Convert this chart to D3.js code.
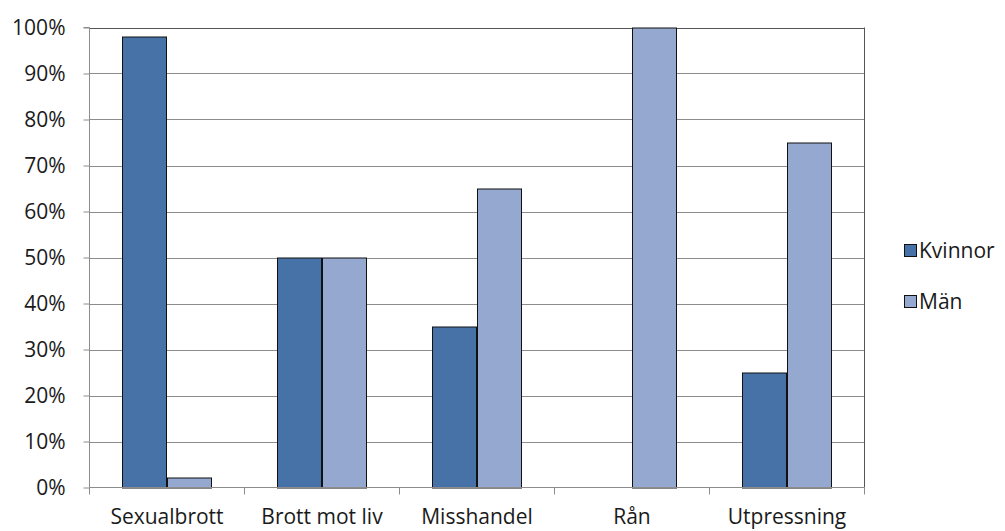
<!DOCTYPE html>
<html>
<head>
<meta charset="utf-8">
<script src="https://cdn.jsdelivr.net/npm/d3@7"></script>
<style>
  html, body { margin: 0; padding: 0; background: #fff; }
  svg { display: block; }
  text { font-family: "Open Sans", "Noto Sans", sans-serif; fill: #1a1a1a; }
</style>
</head>
<body>
<svg id="chart" width="1005" height="531"></svg>
<script>
// Share of victims by sex, per offence type
const categories = ["Sexualbrott", "Brott mot liv", "Misshandel", "Rån", "Utpressning"];
const seriesNames = ["Kvinnor", "Män"];
const kvinnor = [98, 50, 35, 0, 25];
const man = [2, 50, 65, 100, 75];
const yTicks = [0, 10, 20, 30, 40, 50, 60, 70, 80, 90, 100];
const colors = ["#4672A8", "#95A9D0"];

const svg = d3.select("#chart");
const plot = { left: 89.5, right: 864.5, top: 27.5, bottom: 487.5 };

const x = d3.scaleBand().domain(categories).range([plot.left, plot.right]).paddingInner(0).paddingOuter(0);
// Pair of bars centred in each category, taking up ~57% of the band
const x1 = d3.scaleBand().domain(seriesNames)
  .range([x.bandwidth() * 0.2155, x.bandwidth() * 0.7845]).paddingInner(0).paddingOuter(0);
const y = d3.scaleLinear().domain([0, 100]).range([plot.bottom, plot.top]);

// Horizontal gridlines
svg.append("g")
  .selectAll("line")
  .data(yTicks.filter(t => t > 0))
  .join("line")
  .attr("x1", plot.left).attr("x2", plot.right)
  .attr("y1", d => Math.round(y(d)) + 0.5).attr("y2", d => Math.round(y(d)) + 0.5)
  .attr("stroke", d => d === 100 ? "#555" : "#8c8c8c")
  .attr("stroke-width", 1);

// Right border of the plot area
svg.append("line")
  .attr("x1", plot.right).attr("x2", plot.right)
  .attr("y1", plot.top).attr("y2", plot.bottom)
  .attr("stroke", "#555");

// Bars
const rows = categories.map((c, i) => ({ cat: c, values: [kvinnor[i], man[i]] }));
svg.append("g")
  .selectAll("g")
  .data(rows)
  .join("g")
  .attr("transform", d => `translate(${x(d.cat)},0)`)
  .selectAll("rect")
  .data(d => d.values.map((v, j) => ({ name: seriesNames[j], v, j })).filter(d => d.v > 0))
  .join("rect")
  .attr("x", d => Math.round(x1(d.name)))
  .attr("width", d => Math.round(x1.bandwidth()))
  .attr("y", d => Math.round(y(d.v)))
  .attr("height", d => Math.round(y(0)) - Math.round(y(d.v)))
  .attr("fill", d => colors[d.j])
  .attr("stroke", "#111")
  .attr("stroke-width", 1);

// Y axis
const yAxis = svg.append("g")
  .attr("transform", `translate(${plot.left},0)`)
  .call(d3.axisLeft(y).tickValues(yTicks).tickFormat(d => d + "%").tickSize(6).tickPadding(18));
yAxis.select(".domain").attr("stroke", "#8c8c8c").attr("d", `M-6,${plot.top}H0V${plot.bottom}`);
yAxis.selectAll(".tick line").attr("stroke", "#8c8c8c");
yAxis.selectAll(".tick text").style("font-size", "21px").attr("fill", "#1a1a1a").attr("dy", "0.35em");

// X axis with tick marks at category boundaries
const xAxis = svg.append("g").attr("transform", `translate(0,${plot.bottom})`);
xAxis.append("line")
  .attr("x1", plot.left).attr("x2", plot.right)
  .attr("stroke", "#8c8c8c");
const bounds = categories.map(c => x(c)).concat([plot.right]);
xAxis.selectAll("line.tk")
  .data(bounds)
  .join("line")
  .attr("class", "tk")
  .attr("x1", d => d).attr("x2", d => d)
  .attr("y1", 0).attr("y2", 7)
  .attr("stroke", "#8c8c8c");
xAxis.selectAll("text")
  .data(categories)
  .join("text")
  .attr("x", d => x(d) + x.bandwidth() / 2)
  .attr("y", 36.5)
  .attr("text-anchor", "middle")
  .style("font-size", "21px")
  .text(d => d);

// Legend
const legend = svg.append("g").attr("transform", "translate(904,244)");
const li = legend.selectAll("g")
  .data(seriesNames)
  .join("g")
  .attr("transform", (d, i) => `translate(0,${i * 51})`);
li.append("rect")
  .attr("x", 0.5).attr("y", 0.5)
  .attr("width", 12).attr("height", 12)
  .attr("fill", (d, i) => colors[i])
  .attr("stroke", "#111");
li.append("text")
  .attr("x", 15).attr("y", 6.5)
  .attr("dy", "0.35em")
  .style("font-size", "21px")
  .text(d => d);
</script>
</body>
</html>
